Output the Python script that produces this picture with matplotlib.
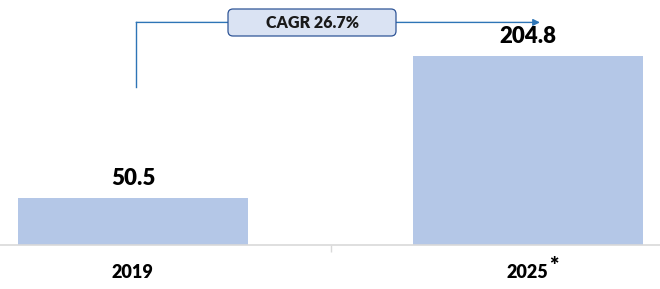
import matplotlib
matplotlib.use("Agg")
import matplotlib.pyplot as plt
from matplotlib.patches import FancyBboxPatch
from matplotlib.transforms import IdentityTransform

categories = ["2019", "2025"]
footnote_marks = ["", "*"]
values = [50.5, 204.8]
cagr_label = "CAGR 26.7%"

BAR_COLOR = "#B4C7E7"
LINE_COLOR = "#2E75B6"
BOX_FACE = "#DAE3F3"
BOX_EDGE = "#2F5597"
AXIS_COLOR = "#D9D9D9"
FONT = "Lato"
WEIGHT = "heavy"

fig = plt.figure(figsize=(6.6, 2.89), dpi=100)
ax = fig.add_axes([0, 44 / 289, 1, 245 / 289])

x = list(range(len(categories)))
ax.bar(x, values, width=0.582, color=BAR_COLOR, zorder=2)
ax.set_xlim(-0.337, 1.334)
ax.set_ylim(0, 266)

for xi, v in zip(x, values):
    ax.annotate(f"{v}", (xi, v), xytext=(0, 13), textcoords="offset pixels",
                ha="center", va="baseline", fontsize=16, fontweight=WEIGHT,
                family=FONT, color="black")

for s in ["top", "right", "left"]:
    ax.spines[s].set_visible(False)
ax.spines["bottom"].set_color(AXIS_COLOR)
ax.spines["bottom"].set_linewidth(1.2)
ax.set_yticks([])
ax.set_xticks([0.5], minor=False)
ax.set_xticklabels([""])
ax.tick_params(axis="x", length=5, color=AXIS_COLOR, width=1)

for xi, lab, mark in zip(x, categories, footnote_marks):
    ax.annotate(lab, (xi, 0), xytext=(-1, -33), textcoords="offset pixels",
                ha="center", va="baseline", fontsize=13, fontweight=WEIGHT,
                family=FONT, color="black")
    if mark:
        ax.annotate(mark, (xi, 0), xytext=(21, -28), textcoords="offset pixels",
                    ha="left", va="baseline", fontsize=16, fontweight=WEIGHT,
                    family=FONT, color="black")

# CAGR connector
y_line = max(values) * 1.18
ax.plot([0.008, 0.008], [max(values) * 0.835, y_line], color=LINE_COLOR, lw=1, zorder=3)
ax.annotate("", xy=(1.03, y_line), xytext=(0.008, y_line),
            arrowprops=dict(arrowstyle="-|>", color=LINE_COLOR, lw=1,
                            mutation_scale=10, shrinkA=0, shrinkB=0), zorder=3)

box = FancyBboxPatch((228, 253), 168, 27, boxstyle="round,pad=0,rounding_size=5",
                     transform=IdentityTransform(), facecolor=BOX_FACE,
                     edgecolor=BOX_EDGE, lw=0.9, zorder=4)
fig.patches.append(box)
fig.text(312 / 660, 1 - 22.5 / 289, cagr_label, ha="center", va="center",
         fontsize=11.5, fontweight=WEIGHT, family=FONT, color="#1a1a1a", zorder=5)

fig.savefig("out.png", dpi=100)
